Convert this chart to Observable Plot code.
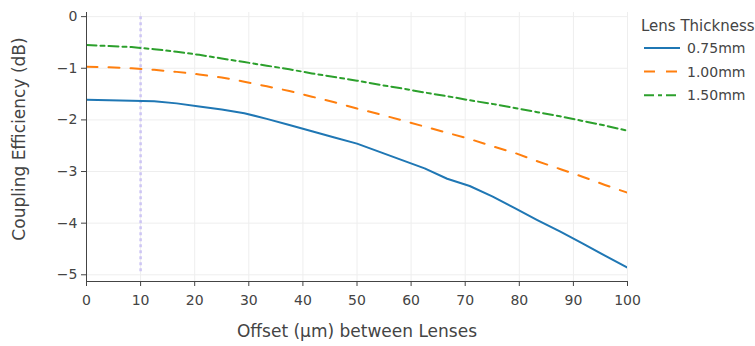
<!DOCTYPE html>
<html><head><meta charset="utf-8">
<script src="https://cdn.jsdelivr.net/npm/d3@7"></script>
<script src="https://cdn.jsdelivr.net/npm/@observablehq/plot@0.6"></script>
<style>
body{margin:0;background:#fff}
#chart{position:relative;width:755px;height:346px;font-family:"DejaVu Sans",Verdana,sans-serif;color:#444}
#legend{position:absolute;left:0;top:0;pointer-events:none}
</style>
</head><body><div id="chart"></div>
<script>
const offsets = [0, 4.17, 8.33, 12.5, 16.67, 20.83, 25, 29.17, 33.33, 37.5, 41.67, 45.83, 50, 54.17, 58.33, 62.5, 66.67, 70.83, 75, 79.17, 83.33, 87.5, 91.67, 95.83, 100];
const eff075 = [-1.61, -1.62, -1.63, -1.64, -1.68, -1.74, -1.80, -1.87, -1.98, -2.10, -2.22, -2.34, -2.46, -2.62, -2.78, -2.94, -3.14, -3.28, -3.48, -3.71, -3.94, -4.16, -4.39, -4.63, -4.86];
const eff100 = [-0.97, -0.98, -1.00, -1.03, -1.07, -1.12, -1.18, -1.26, -1.35, -1.44, -1.55, -1.66, -1.78, -1.89, -2.01, -2.13, -2.25, -2.37, -2.51, -2.64, -2.80, -2.95, -3.10, -3.26, -3.41];
const eff150 = [-0.55, -0.57, -0.59, -0.63, -0.68, -0.74, -0.81, -0.88, -0.95, -1.02, -1.10, -1.17, -1.24, -1.32, -1.39, -1.47, -1.54, -1.62, -1.69, -1.77, -1.85, -1.93, -2.02, -2.11, -2.21];
const seriesNames = ["0.75mm", "1.00mm", "1.50mm"];
const seriesColors = ["#1f77b4", "#ff7f0e", "#2ca02c"];
const seriesDash = [null, "11,11", "10,4,4,4"];
const legendTitle = "Lens Thickness";
const xTicks = [0, 10, 20, 30, 40, 50, 60, 70, 80, 90, 100];
const yTicks = [0, -1, -2, -3, -4, -5];
const xDomain = [0, 100];
const yDomain = [-5.13, 0.08];
const markerX = 10;
const markerSpan = [0, -5];
const xTitle = "Offset (μm) between Lenses";
const yTitle = "Coupling Efficiency (dB)";

const seriesValues = [eff075, eff100, eff150];
const data = seriesValues.map(vals => offsets.map((x, i) => ({x, y: vals[i]})));
const fmt = d3.format("~g");

const W = 755, H = 346;
const plot = Plot.plot({
  width: W, height: H,
  marginLeft: 86, marginRight: 128, marginTop: 12, marginBottom: 65,
  style: {fontFamily: '"DejaVu Sans", Verdana, sans-serif', fontSize: "14px", color: "#444", background: "#fff"},
  x: {domain: xDomain},
  y: {domain: yDomain},
  marks: [
    Plot.gridX(xTicks, {stroke: "#eee", strokeOpacity: 1, strokeWidth: 1}),
    Plot.gridY(yTicks, {stroke: "#eee", strokeOpacity: 1, strokeWidth: 1}),
    Plot.ruleX([{x: markerX, y1: markerSpan[0], y2: markerSpan[1]}], {x: "x", y1: "y1", y2: "y2", stroke: "#cdc5f4", strokeWidth: 2.5, strokeDasharray: "3,3"}),
    ...data.map((d, i) => Plot.line(d, {x: "x", y: "y", stroke: seriesColors[i], strokeWidth: 2, strokeDasharray: seriesDash[i], clip: true})),
    Plot.ruleX([xDomain[0]], {stroke: "#444", strokeWidth: 1}),
    Plot.ruleY([yDomain[0]], {stroke: "#444", strokeWidth: 1}),
    Plot.axisX(xTicks, {tickSize: 5, tickPadding: 9, fontSize: 14, label: null, stroke: "#444", tickFormat: fmt}),
    Plot.axisY(yTicks, {tickSize: 5, tickPadding: 4, fontSize: 14, label: null, stroke: "#444", tickFormat: fmt}),
    Plot.text([xTitle], {frameAnchor: "bottom", dy: 55, fontSize: 17, fill: "#444"}),
    Plot.text([yTitle], {frameAnchor: "left", textAnchor: "middle", dx: -67, dy: -8, rotate: -90, fontSize: 17, fill: "#444"})
  ]
});
const chart = document.getElementById("chart");
chart.appendChild(plot);

// legend
const leg = d3.select(chart).append("svg").attr("id", "legend").attr("width", W).attr("height", H)
  .style("font-family", '"DejaVu Sans", Verdana, sans-serif').style("font-size", "14px");
leg.append("text").attr("x", 641).attr("y", 31).attr("fill", "#444").style("font-size", "15px").text(legendTitle);
seriesNames.forEach((name, i) => {
  const cy = 48 + i * 23.6;
  leg.append("line").attr("x1", 644).attr("x2", 680).attr("y1", cy).attr("y2", cy)
    .attr("stroke", seriesColors[i]).attr("stroke-width", 2)
    .attr("stroke-dasharray", seriesDash[i]);
  leg.append("text").attr("x", 687).attr("y", cy).attr("dy", "0.35em").attr("fill", "#444").text(name);
});
</script>
</body></html>
